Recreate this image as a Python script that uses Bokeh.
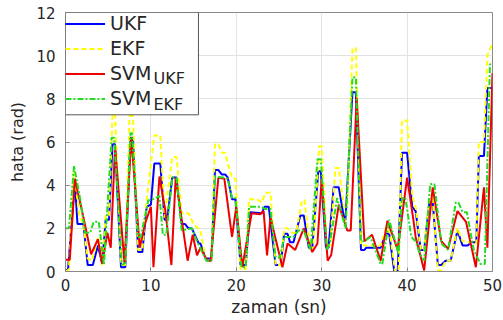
from bokeh.plotting import figure
from bokeh.models import Range1d, Legend, LegendItem, Label, FixedTicker, BoxAnnotation
from bokeh.embed import file_html
from bokeh.resources import INLINE

# ---- data ----
ukf_x = [0, 0.3, 1.1, 1.4, 2.1, 2.6, 3.2, 3.8, 4.3, 4.7, 5.1, 5.5, 5.8, 6.5, 7.0, 7.6, 7.9, 8.5, 9.0, 9.5,
         10.0, 10.4, 11.1, 11.6, 11.9, 12.5, 13.0, 13.6, 14.0, 14.4, 14.8, 15.6, 15.8, 16.4, 17.1, 17.5, 17.9,
         18.3, 18.7, 19.0, 19.5, 19.9, 20.5, 21.1, 21.6, 23.0, 23.3, 23.8, 24.6, 25.2, 25.6, 26.0, 26.3, 26.7,
         27.5, 27.9, 28.5, 28.9, 29.6, 29.9, 30.5, 30.8, 31.4, 32.0, 32.6, 32.8, 33.6, 34.0, 34.6, 35.0, 35.2,
         36.9, 37.5, 37.9, 38.5, 38.9, 39.4, 40.0, 40.6, 41.0, 41.6, 42.0, 42.6, 43.0, 43.6, 44.0, 44.5, 45.1,
         45.9, 46.5, 47.1, 47.5, 48.1, 48.4, 49.0, 49.4, 50.0]
ukf_y = [0.05, 0.1, 4.2, 2.2, 2.2, 0.3, 0.3, 1.2, 0.35, 2.4, 2.4, 5.9, 5.9, 0.2, 0.2, 6.2, 6.2, 0.9, 0.9, 3.0,
         3.1, 5.0, 5.0, 2.4, 2.4, 4.35, 4.35, 2.2, 2.2, 2.0, 2.0, 1.3, 1.3, 0.6, 0.6, 4.7, 4.7,
         4.5, 4.5, 4.35, 3.35, 3.35, 0.3, 0.3, 2.75, 2.7, 3.0, 3.0, 0.3, 0.3, 1.75, 1.75, 1.35, 1.35,
         2.6, 2.6, 1.1, 1.1, 4.65, 4.65, 1.1, 1.1, 3.9, 3.9, 2.5, 2.5, 8.3, 8.3, 1.0, 1.0, 1.1,
         1.1, 1.75, 1.75, 0.0, 0.0, 5.5, 5.5, 3.0, 2.8, 1.0, 1.0, 3.2, 3.2, 0.3, 0.3, 0.5, 0.5,
         1.9, 1.2, 1.2, 1.35, 1.35, 5.35, 5.35, 8.5, 8.5]

ekf_x = [0, 0.4, 1.0, 1.6, 2.1, 2.6, 3.1, 3.8, 4.3, 4.7, 5.1, 5.5, 5.8, 6.5, 7.0, 7.5, 7.9, 8.5, 9.0, 9.5,
         10.4, 11.1, 11.6, 12.5, 13.0, 13.6, 14.4, 15.0, 15.8, 16.4, 17.1, 17.5, 17.9, 18.3, 18.7, 19.0, 19.5,
         19.9, 20.5, 21.1, 21.5, 22.4, 23.0, 23.4, 24.0, 24.6, 25.2, 25.6, 26.0, 26.5, 27.0, 27.7, 28.0, 28.6,
         29.0, 29.7, 30.0, 30.6, 31.0, 31.6, 32.0, 32.6, 33.0, 33.6, 34.0, 34.6, 35.0, 36.9, 37.5, 37.9, 38.6,
         39.0, 39.4, 40.0, 40.6, 41.0, 41.6, 42.0, 42.6, 43.0, 43.6, 44.0, 44.5, 45.1, 45.9, 46.5, 47.1, 47.5,
         48.1, 48.4, 49.0, 49.4, 50.0]
ekf_y = [0.0, 0.1, 4.7, 2.6, 2.2, 0.6, 0.5, 1.6, 0.3, 2.6, 2.6, 7.3, 7.3, 0.3, 0.3, 7.2, 7.2, 1.0, 1.0, 3.3,
         6.3, 6.3, 2.5, 5.3, 5.3, 2.7, 2.7, 2.2, 1.9, 0.6, 0.6, 5.9, 5.9, 5.5, 5.5, 5.0, 4.35,
         4.3, 0.1, 0.1, 3.35, 3.35, 3.2, 3.65, 3.65, 0.3, 0.3, 2.0, 2.0, 1.8, 1.8, 3.3, 3.3, 1.1,
         1.1, 5.8, 5.8, 1.2, 1.2, 4.8, 4.8, 3.0, 3.0, 10.35, 10.35, 1.2, 1.2, 1.2, 2.0, 2.0, 0.0,
         0.0, 7.0, 7.0, 3.5, 3.0, 1.0, 1.0, 3.4, 3.4, 0.05, 0.05, 0.5, 0.5, 2.0, 1.4, 1.4, 1.3,
         1.3, 6.0, 6.0, 10.0, 10.6]

svm_ukf_x = [0, 0.5, 1.1, 2.1, 3.0, 3.8, 4.3, 4.9, 5.3, 5.8, 6.9, 7.7, 8.7, 9.3, 10.0, 10.3, 11.0, 11.7, 12.4,
             12.9, 14.3, 14.9, 15.4, 15.8, 16.6, 17.0, 17.9, 18.6, 19.5, 20.0, 20.7, 21.8, 22.8, 23.2, 23.6,
             24.0, 25.4, 26.0, 26.9, 27.9, 28.9, 29.5, 30.0, 30.7, 31.1, 32.0, 33.0, 33.4, 34.1, 35.0, 35.9,
             36.9, 37.7, 38.9, 40.0, 40.7, 41.0, 42.0, 43.0, 44.0, 44.8, 45.9, 46.9, 48.05, 49.0, 49.4, 50.0]
svm_ukf_y = [0.55, 0.55, 4.3, 2.5, 0.8, 1.5, 0.35, 1.8, 1.1, 5.8, 0.4, 6.2, 1.1, 2.2, 3.0, 0.2, 4.4, 2.8, 0.3,
             4.35, 0.5, 1.7, 0.75, 1.1, 0.5, 0.5, 4.35, 4.3, 1.6, 3.0, 0.2, 2.7, 2.65, 2.8, 0.75,
             2.5, 0.2, 1.3, 1.0, 2.0, 0.9, 1.3, 4.3, 0.5, 0.75, 3.1, 1.9, 1.9, 8.05, 1.4, 1.7,
             0.5, 2.35, 1.0, 4.35, 2.5, 1.6, 0.05, 3.9, 1.4, 1.05, 2.8, 2.3, 0.2, 3.9, 1.1, 9.2]

svm_ekf_x = [0, 0.4, 1.0, 1.7, 2.3, 2.9, 3.3, 3.9, 4.5, 5.4, 5.7, 6.6, 7.0, 7.6, 7.8, 8.5, 8.8, 9.7, 10.0,
             11.0, 11.4, 11.8, 12.5, 13.0, 13.6, 14.8, 15.4, 16.0, 16.5, 17.1, 17.5, 18.5, 19.0, 19.5, 19.9,
             20.6, 21.1, 21.5, 22.8, 23.4, 24.0, 24.6, 25.1, 25.6, 26.7, 27.3, 27.9, 28.7, 29.5, 29.9, 30.6,
             31.0, 31.8, 32.8, 33.6, 34.0, 34.6, 35.0, 35.7, 36.9, 37.1, 37.9, 39.0, 39.4, 39.8, 40.5, 41.0,
             41.5, 42.0, 42.7, 43.2, 44.0, 44.8, 45.7, 46.0, 46.5, 47.0, 47.8, 48.6, 49.1, 49.7, 50.0]
svm_ekf_y = [2.0, 2.0, 4.9, 3.4, 1.8, 1.8, 2.3, 2.3, 0.3, 6.2, 6.2, 0.3, 0.4, 6.4, 6.4, 1.6, 1.6, 3.3, 3.3,
             3.5, 1.7, 1.7, 4.35, 4.35, 1.9, 2.0, 1.4, 0.9, 0.5, 0.5, 4.4, 4.35, 4.3, 3.4, 3.4,
             0.2, 0.2, 3.0, 3.0, 2.9, 2.9, 0.65, 0.65, 1.6, 1.6, 1.9, 1.9, 1.0, 5.2, 5.2, 1.0,
             1.4, 3.4, 2.0, 9.0, 9.0, 1.4, 1.4, 1.6, 0.35, 0.35, 2.4, 0.8, 3.4, 3.4, 1.6, 1.4,
             0.8, 0.5, 4.05, 4.05, 1.3, 1.0, 3.2, 3.2, 2.75, 2.75, 1.0, 0.35, 0.35, 9.6, 9.6]

x_ticks = [0, 10, 20, 30, 40, 50]
y_ticks = [0, 2, 4, 6, 8, 10, 12]
labels = ["UKF", "EKF", "SVM", "SVM"]
subscripts = ["UKF", "EKF"]
x_title = "zaman (sn)"
y_title = "hata (rad)"

FONT = "DejaVu Sans"
AX = "#8a8a8a"
TXT = "#262626"

p = figure(width=503, height=320, output_backend="svg", toolbar_location=None,
           x_range=Range1d(0, 50), y_range=Range1d(0, 12),
           min_border_left=65, min_border_right=11, min_border_top=12, min_border_bottom=49,
           background_fill_color="white", border_fill_color="white")

p.outline_line_color = AX
p.outline_line_width = 1

for ax, ticks in ((p.xaxis, x_ticks), (p.yaxis, y_ticks)):
    ax.ticker = FixedTicker(ticks=ticks)
    ax.axis_line_color = AX
    ax.major_tick_line_color = AX
    ax.major_tick_in = 4
    ax.major_tick_out = 0
    ax.minor_tick_line_color = None
    ax.major_label_text_font = FONT
    ax.major_label_text_font_size = "15px"
    ax.major_label_text_color = TXT
    ax.axis_label_text_font = FONT
    ax.axis_label_text_font_style = "normal"
    ax.axis_label_text_color = TXT

p.xaxis.axis_label = x_title
p.yaxis.axis_label = y_title
p.xaxis.axis_label_text_font_size = "17px"
p.yaxis.axis_label_text_font_size = "16px"
p.xaxis.major_label_standoff = 7
p.xaxis.axis_label_standoff = 3
p.yaxis.major_label_standoff = 10
p.yaxis.axis_label_standoff = 6

p.xgrid.grid_line_color = "#e3e3e3"
p.ygrid.grid_line_color = "#e3e3e3"
p.xgrid.ticker = FixedTicker(ticks=x_ticks)
p.ygrid.ticker = FixedTicker(ticks=y_ticks)

r1 = p.line(ukf_x, ukf_y, line_color="#0000ff", line_width=2)
r2 = p.line(ekf_x, ekf_y, line_color="#ffff00", line_width=2, line_dash="5 3")
r3 = p.line(svm_ukf_x, svm_ukf_y, line_color="#ee0000", line_width=2)
r4 = p.line(svm_ekf_x, svm_ekf_y, line_color="#22dd22", line_width=2, line_dash="6 2 2 2")

# legend frame (white box over the lines)
p.add_layout(BoxAnnotation(left=0, right=15.57, top=12, bottom=7.26,
                           fill_color="white", fill_alpha=1.0,
                           line_color="#555555", line_width=1, line_alpha=1.0))

# subscripts of the SVM legend entries
for sub, ysub in zip(subscripts, [8.92, 7.74]):
    p.add_layout(Label(x=10.3, y=ysub, text=sub, text_font=FONT, text_font_size="16px",
                       text_color=TXT, text_baseline="middle", text_align="left", level="overlay"))

legend = Legend(items=[LegendItem(label=labels[0], renderers=[r1]),
                       LegendItem(label=labels[1], renderers=[r2]),
                       LegendItem(label=labels[2], renderers=[r3]),
                       LegendItem(label=labels[3], renderers=[r4])],
                location="top_left", margin=0, padding=3, spacing=3,
                label_height=21, glyph_height=21, glyph_width=40, label_standoff=5,
                label_text_font=FONT, label_text_font_size="19px", label_text_color=TXT,
                border_line_color=None, background_fill_alpha=0.0)
p.add_layout(legend)

open("out.html", "w").write(file_html(p, INLINE))
